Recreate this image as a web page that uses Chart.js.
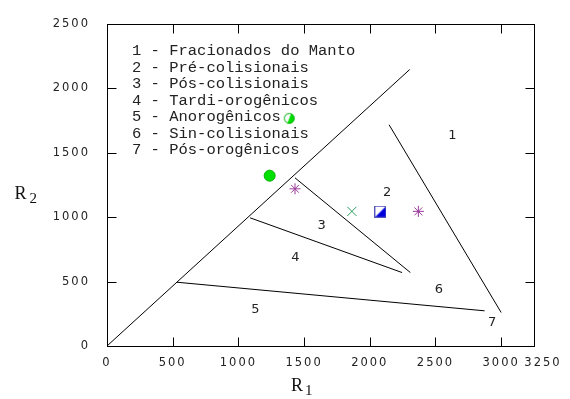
<!DOCTYPE html>
<html><head><meta charset="utf-8">
<script src="https://cdn.jsdelivr.net/npm/chart.js@4.4.1/dist/chart.umd.min.js"></script>
<style>html,body{margin:0;padding:0;background:#fff}#wrap{width:570px;height:399px}</style>
</head><body><div id="wrap"><canvas id="c" width="570" height="399"></canvas></div>
<script>
const xTicks = [0, 500, 1000, 1500, 2000, 2500, 3000, 3250];
const yTicks = [0, 500, 1000, 1500, 2000, 2500];
const lineA = [{x: 0, y: 0}, {x: 2304, y: 2146}];
const lineB = [{x: 1431, y: 1305}, {x: 2309, y: 570}];
const lineC = [{x: 1089, y: 995}, {x: 2246, y: 570}];
const lineD = [{x: 532, y: 495}, {x: 2874, y: 273}];
const lineE = [{x: 2147, y: 1717}, {x: 3000, y: 260}];
const greenCircles = [{x: 1238, y: 1322}];
const halfCircles = [{x: 1387, y: 1767}];
const asterisks = [{x: 1431, y: 1220}, {x: 2370, y: 1045}];
const crosses = [{x: 1864, y: 1045}];
const halfSquares = [{x: 2081, y: 1042}];
const regionLabels = ['1', '2', '3', '4', '5', '6', '7'];
const regionX = [2628, 2132, 1633, 1433, 1129, 2527, 2932];
const regionY = [1636, 1189, 937, 684, 286, 437, 184];
const legendLines = [
  '1 - Fracionados do Manto',
  '2 - Pré-colisionais',
  '3 - Pós-colisionais',
  '4 - Tardi-orogênicos',
  '5 - Anorogênicos',
  '6 - Sin-colisionais',
  '7 - Pós-orogênicos'
];
const LAST_X = xTicks[xTicks.length - 1];
const TICK_FONT = '11.5px "DejaVu Sans"';
const TICK_SPACING = '2px';

function makeHalfCircle() {
  const c = document.createElement('canvas'); c.width = 13; c.height = 13;
  const g = c.getContext('2d');
  g.beginPath(); g.arc(6.5, 6.5, 5.2, 0, Math.PI * 2); g.fillStyle = '#fff'; g.fill();
  g.save(); g.beginPath(); g.arc(6.5, 6.5, 5.2, 0, Math.PI * 2); g.clip();
  g.beginPath(); g.moveTo(4, 13); g.lineTo(9, 0); g.lineTo(13, 0); g.lineTo(13, 13); g.closePath();
  g.fillStyle = '#00dd00'; g.fill(); g.restore();
  g.beginPath(); g.arc(6.5, 6.5, 4.9, 0, Math.PI * 2); g.strokeStyle = '#00b000'; g.lineWidth = 1; g.stroke();
  return c;
}
function makeHalfSquare() {
  const c = document.createElement('canvas'); c.width = 12; c.height = 12;
  const g = c.getContext('2d');
  g.fillStyle = '#fff'; g.fillRect(0, 0, 12, 12);
  g.beginPath(); g.moveTo(11, 1); g.lineTo(11, 11); g.lineTo(1, 11); g.closePath();
  g.fillStyle = '#0000dd'; g.fill();
  g.strokeStyle = '#5555bb'; g.lineWidth = 1; g.strokeRect(0.5, 0.5, 11, 11);
  return c;
}

function lineSet(d) {
  return {data: d, showLine: true, borderColor: '#000', borderWidth: 1, pointRadius: 0, fill: false};
}

const decorPlugin = {
  id: 'decor',
  beforeDraw(chart) { chart.ctx.letterSpacing = TICK_SPACING; },
  beforeDatasetsDraw(chart) {
    const ctx = chart.ctx; ctx.letterSpacing = '0px';
    const a = chart.chartArea;
    const L = Math.round(a.left) + 0.5, R = Math.round(a.right) + 0.5;
    const T = Math.round(a.top) + 0.5, B = Math.round(a.bottom) + 0.5;
    ctx.save();
    ctx.strokeStyle = '#000'; ctx.lineWidth = 1;
    ctx.strokeRect(L, T, R - L, B - T);
    const xs = chart.scales.x, ys = chart.scales.y;
    ctx.beginPath();
    xs.ticks.forEach(t => {
      const px = Math.round(xs.getPixelForValue(t.value)) + 0.5;
      if (px <= L + 1 || px >= R - 1) return;
      ctx.moveTo(px, B); ctx.lineTo(px, B - 9);
      ctx.moveTo(px, T); ctx.lineTo(px, T + 9);
    });
    ys.ticks.forEach(t => {
      const py = Math.round(ys.getPixelForValue(t.value)) + 0.5;
      if (py <= T + 1 || py >= B - 1) return;
      ctx.moveTo(L, py); ctx.lineTo(L + 9, py);
      ctx.moveTo(R, py); ctx.lineTo(R - 9, py);
    });
    ctx.stroke();
    // last x tick label, nudged right as in the original so it does not collide
    ctx.letterSpacing = TICK_SPACING;
    ctx.font = TICK_FONT; ctx.fillStyle = '#222';
    ctx.textAlign = 'center'; ctx.textBaseline = 'middle';
    ctx.fillText(String(LAST_X), xs.getPixelForValue(LAST_X) + 9, a.bottom + 17);
    ctx.letterSpacing = '0px';
    ctx.restore();
  },
  afterDraw(chart) {
    const ctx = chart.ctx; ctx.save(); ctx.letterSpacing = '0px';
    const xs = chart.scales.x, ys = chart.scales.y;
    ctx.font = '15.5px "Liberation Mono"'; ctx.fillStyle = '#222';
    ctx.textAlign = 'left'; ctx.textBaseline = 'middle';
    legendLines.forEach((s, i) => ctx.fillText(s, 132, 51 + i * 16.55));
    ctx.font = '13px "DejaVu Sans"'; ctx.fillStyle = '#222'; ctx.textAlign = 'center';
    regionLabels.forEach((s, i) => ctx.fillText(s, xs.getPixelForValue(regionX[i]), ys.getPixelForValue(regionY[i])));
    ctx.textBaseline = 'alphabetic'; ctx.textAlign = 'left'; ctx.fillStyle = '#111';
    ctx.font = '18px "Liberation Serif"'; ctx.fillText('R', 291, 391);
    ctx.font = '15px "Liberation Serif"'; ctx.fillText('1', 305, 395);
    ctx.font = '18px "Liberation Serif"'; ctx.fillText('R', 14.5, 198.5);
    ctx.font = '15px "Liberation Serif"'; ctx.fillText('2', 29.5, 202.5);
    ctx.restore();
  }
};

const tickFont = {family: 'DejaVu Sans', size: 11.5};

new Chart(document.getElementById('c'), {
  type: 'scatter',
  data: {
    datasets: [
      lineSet(lineA), lineSet(lineB), lineSet(lineC), lineSet(lineD), lineSet(lineE),
      {data: greenCircles, pointStyle: 'circle', pointRadius: 5.5, backgroundColor: '#00e000', borderColor: '#00b000', borderWidth: 1},
      {data: halfCircles, pointStyle: makeHalfCircle(), pointRadius: 6},
      {data: asterisks, pointStyle: 'star', pointRadius: 5.5, borderColor: '#9b3d9b', backgroundColor: '#9b3d9b', borderWidth: 1},
      {data: crosses, pointStyle: 'crossRot', pointRadius: 6.5, borderColor: '#2a9d5f', backgroundColor: '#2a9d5f', borderWidth: 1},
      {data: halfSquares, pointStyle: makeHalfSquare(), pointRadius: 6}
    ]
  },
  options: {
    responsive: false, animation: false, devicePixelRatio: 1,
    layout: {padding: {top: 16, right: 36, left: 0, bottom: 0}},
    plugins: {legend: {display: false}, tooltip: {enabled: false}},
    scales: {
      x: {
        type: 'linear', min: 0, max: LAST_X,
        afterBuildTicks: s => { s.ticks = xTicks.map(v => ({value: v})); },
        afterFit: s => { s.height = 53; },
        grid: {display: false, drawTicks: false},
        border: {display: false},
        ticks: {autoSkip: false, maxRotation: 0, padding: 10, color: '#222', font: tickFont,
                callback: v => (v === LAST_X ? '' : String(v))}
      },
      y: {
        type: 'linear', min: 0, max: 2500,
        afterBuildTicks: s => { s.ticks = yTicks.map(v => ({value: v})); },
        afterFit: s => { s.width = 107; },
        grid: {display: false, drawTicks: false},
        border: {display: false},
        ticks: {autoSkip: false, padding: 17, color: '#222', font: tickFont, callback: v => String(v)}
      }
    }
  },
  plugins: [decorPlugin]
});
</script>
</body></html>
